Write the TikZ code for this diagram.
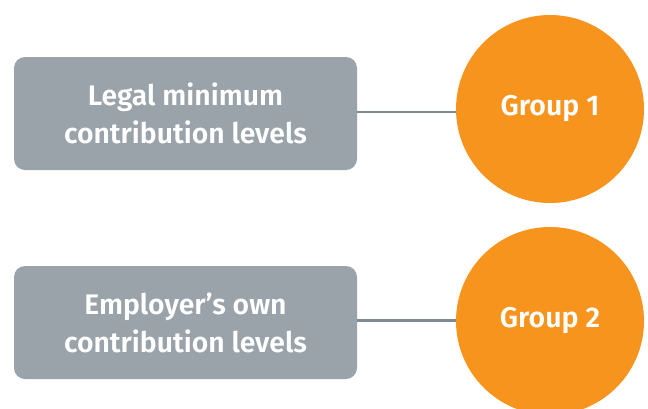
\documentclass[tikz,border=0pt]{standalone}
\usepackage{fontspec}
\setmainfont{Fira Sans}[BoldFont={Fira Sans SemiBold}]
\definecolor{boxgray}{HTML}{9AA3A9}
\definecolor{linegray}{HTML}{7F8A94}
\definecolor{grouporange}{HTML}{F7941E}
\tikzset{
  levelbox/.style={rectangle,rounded corners=11pt,fill=boxgray,text=white,
    minimum width=343pt,minimum height=113pt,align=center,
    font=\fontsize{28.3}{38}\selectfont\bfseries},
  groupdisc/.style={circle,fill=grouporange,text=white,minimum size=188pt,
    inner sep=0pt,font=\fontsize{28.5}{34}\selectfont\bfseries},
  link/.style={draw=linegray,line width=2.2pt}
}
\begin{document}
\begin{tikzpicture}[x=1pt,y=-1pt]
\useasboundingbox (0,0) rectangle (648,408);
\clip (0,0) rectangle (648,408);
\node[levelbox] (legal) at (185.5,113.5) {Legal minimum\\contribution levels};
\node[groupdisc] (grp1) at (550,109) {Group 1};
\node[levelbox] (own) at (185.5,322.5) {Employer’s own\\contribution levels};
\node[groupdisc] (grp2) at (550,321) {Group 2};
\coordinate (l1) at ([yshift=1.5pt]legal.east);
\coordinate (l2) at ([yshift=2pt]own.east);
\draw[link] (l1) -- (l1 -| grp1.west);
\draw[link] (l2) -- (l2 -| grp2.west);
\end{tikzpicture}
\end{document}
